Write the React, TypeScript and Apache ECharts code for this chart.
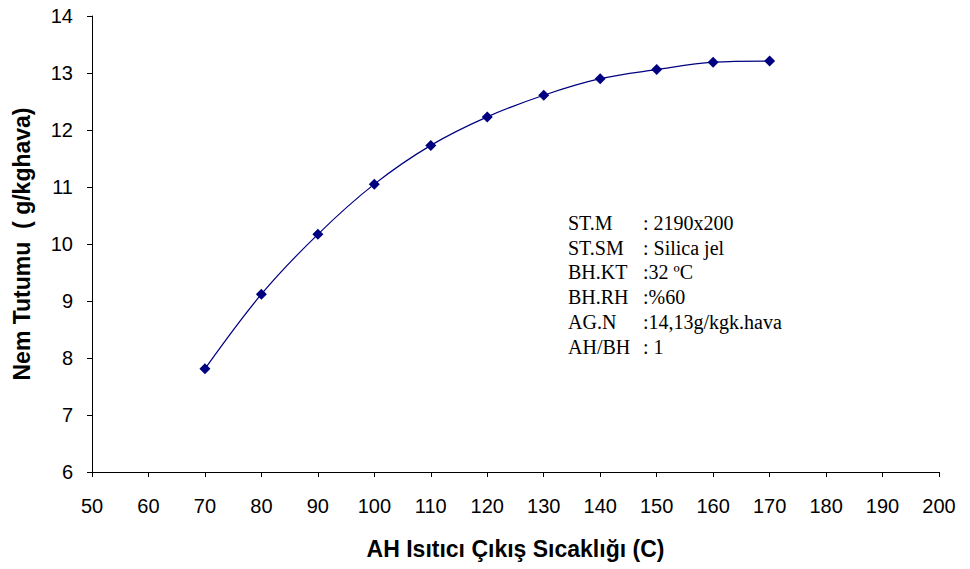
import React, { useEffect, useRef } from "react";
import * as echarts from "echarts";

const xValues = [70, 80, 90, 100, 110, 120, 130, 140, 150, 160, 170];
const yValues = [7.81, 9.12, 10.17, 11.05, 11.73, 12.23, 12.61, 12.9, 13.06, 13.19, 13.21];
const noteLabels = ["ST.M", "ST.SM", "BH.KT", "BH.RH", "AG.N", "AH/BH"];
const noteValues = [": 2190x200", ": Silica jel", ":32 ºC", ":%60", ":14,13g/kgk.hava", ": 1"];
const xTitle = "AH Isıtıcı Çıkış Sıcaklığı (C)";
const yTitle = "Nem Tutumu  ( g/kghava)";

export default function App() {
  const ref = useRef<HTMLDivElement>(null);
  useEffect(() => {
    if (!ref.current) return;
    const chart = echarts.init(ref.current, null, { renderer: "svg" });
    const sans = "Liberation Sans, Arial, sans-serif";
    const serif = "Liberation Serif, Times New Roman, serif";
    const labelFont = { fontFamily: sans, fontSize: 20, color: "#000" };
    const titleFont = { fontFamily: sans, fontSize: 23, fontWeight: "bold", color: "#000" };
    const graphics: any[] = [];
    noteLabels.forEach((t, i) => {
      graphics.push({
        type: "text",
        left: 568,
        top: 213 + i * 24.7,
        style: { text: t, fontFamily: serif, fontSize: 20, fill: "#000" },
      });
      graphics.push({
        type: "text",
        left: 643,
        top: 213 + i * 24.7,
        style: { text: noteValues[i], fontFamily: serif, fontSize: 20, fill: "#000" },
      });
    });
    chart.setOption({
      animation: false,
      backgroundColor: "#fff",
      grid: { left: 92, top: 16, right: 31, bottom: 97, containLabel: false },
      xAxis: {
        type: "value",
        min: 50,
        max: 200,
        interval: 10,
        name: xTitle,
        nameLocation: "middle",
        nameGap: 65,
        nameTextStyle: titleFont,
        axisLine: { lineStyle: { color: "#000", width: 1 } },
        axisTick: { show: true, length: 5, inside: false, lineStyle: { color: "#000" } },
        axisLabel: { ...labelFont, margin: 24 },
        splitLine: { show: false },
      },
      yAxis: {
        type: "value",
        min: 6,
        max: 14,
        interval: 1,
        name: yTitle,
        nameLocation: "middle",
        nameGap: 59,
        nameTextStyle: titleFont,
        axisLine: { show: true, lineStyle: { color: "#000", width: 1 } },
        axisTick: { show: true, length: 5, inside: false, lineStyle: { color: "#000" } },
        axisLabel: { ...labelFont, margin: 19 },
        splitLine: { show: false },
      },
      series: [
        {
          type: "line",
          data: xValues.map((x, i) => [x, yValues[i]]),
          smooth: 0.35,
          symbol: "diamond",
          symbolSize: 11,
          lineStyle: { color: "#000080", width: 1.2 },
          itemStyle: { color: "#000080" },
        },
      ],
      graphic: graphics,
    });
    return () => chart.dispose();
  }, []);
  return <div ref={ref} style={{ width: 970, height: 569, position: "absolute", left: 0, top: 0 }} />;
}
